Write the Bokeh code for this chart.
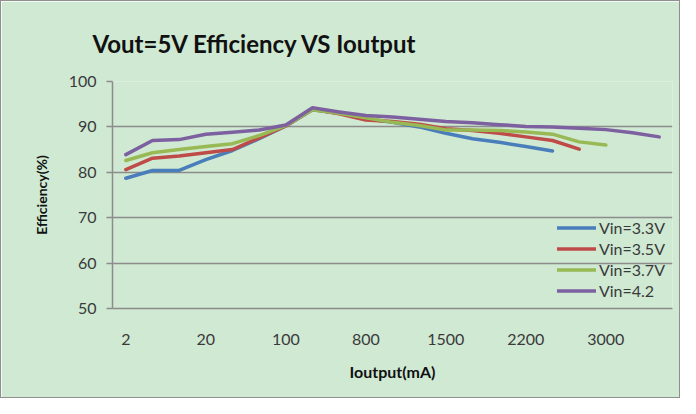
from bokeh.plotting import figure
from bokeh.models import FixedTicker, Legend, LegendItem, Title
from bokeh.embed import file_html
from bokeh.resources import INLINE

categories = ["2", "5", "10", "20", "30", "50", "100", "300", "500", "800", "1000",
              "1200", "1500", "1800", "2000", "2200", "2500", "2800", "3000", "3200", "3500"]
shown_every = 3

vin33 = [78.7, 80.4, 80.4, 82.8, 84.8, 87.4, 90.2, 93.8, 93.0, 91.8, 91.0, 90.0, 88.6, 87.4, 86.6, 85.7, 84.7]
vin35 = [80.6, 83.1, 83.6, 84.3, 85.0, 87.6, 90.2, 93.9, 92.9, 91.5, 91.2, 90.6, 89.6, 89.2, 88.6, 87.8, 87.0, 85.1]
vin37 = [82.6, 84.3, 85.0, 85.7, 86.3, 88.1, 90.3, 93.8, 93.0, 92.0, 91.0, 90.3, 89.3, 89.3, 89.2, 88.9, 88.4, 86.7, 86.0]
vin42 = [83.9, 87.0, 87.2, 88.4, 88.8, 89.3, 90.4, 94.2, 93.3, 92.5, 92.2, 91.7, 91.2, 90.9, 90.5, 90.1, 90.0, 89.7, 89.4, 88.7, 87.8]

series = [("Vin=3.3V", vin33, "#4a7ebb"),
          ("Vin=3.5V", vin35, "#be4b48"),
          ("Vin=3.7V", vin37, "#98b954"),
          ("Vin=4.2", vin42, "#7d60a0")]

BG = "#cfe9d3"
GRID = "#8c8c8c"
TXT = "#3a3a3a"
FONT = "Lato"

p = figure(width=680, height=398, output_backend="svg", toolbar_location=None,
           x_range=(-0.5, len(categories) - 0.5), y_range=(50, 100),
           min_border_left=111, min_border_right=9, min_border_top=80, min_border_bottom=91,
           background_fill_color=BG, border_fill_color=BG,
           styles={"border": "1.5px solid #8f8f8f"})
p.outline_line_color = None

t = Title(text="Vout=5V Efficiency VS Ioutput", align="left", offset=-20,
          text_font=FONT, text_font_size="24px", text_font_style="bold",
          text_color="#111111", standoff=48)
p.add_layout(t, "above")

items = []
for name, vals, col in series:
    r = p.line(list(range(len(vals))), vals, line_color=col, line_width=3.5,
               line_join="round", line_cap="round")
    items.append(LegendItem(label=name, renderers=[r]))

leg = Legend(items=items, location="bottom_right", background_fill_alpha=0,
             border_line_color=None, glyph_width=39, glyph_height=21, label_height=21,
             label_standoff=3, spacing=0, padding=2, margin=7,
             label_text_font=FONT, label_text_font_size="16px", label_text_color=TXT)
p.add_layout(leg, "center")

p.xaxis.ticker = FixedTicker(ticks=list(range(0, len(categories), shown_every)))
p.xaxis.major_label_overrides = {i: categories[i] for i in range(0, len(categories), shown_every)}
p.xaxis.major_tick_line_color = None
p.xaxis.minor_tick_line_color = None
p.xaxis.axis_line_color = GRID
p.xaxis.axis_line_width = 1.5
p.xaxis.major_label_standoff = 19
p.xaxis.axis_label = "Ioutput(mA)"
p.xaxis.axis_label_standoff = 14
p.xaxis.axis_label_text_font_size = "16px"

p.yaxis.ticker = FixedTicker(ticks=[50, 60, 70, 80, 90, 100])
p.yaxis.major_tick_out = 6
p.yaxis.major_tick_in = 0
p.yaxis.major_tick_line_color = GRID
p.yaxis.major_tick_line_width = 1.5
p.yaxis.minor_tick_line_color = None
p.yaxis.axis_line_color = GRID
p.yaxis.axis_line_width = 1.5
p.yaxis.major_label_standoff = 10
p.yaxis.axis_label = "Efficiency(%)"
p.yaxis.axis_label_standoff = 16
p.yaxis.axis_label_text_font_size = "14px"

for ax in (p.xaxis, p.yaxis):
    ax.major_label_text_font = FONT
    ax.major_label_text_font_size = "16px"
    ax.major_label_text_color = TXT
    ax.axis_label_text_font = FONT
    ax.axis_label_text_font_style = "bold"
    ax.axis_label_text_color = "#111111"

p.xgrid.grid_line_color = None
p.ygrid.grid_line_color = GRID
p.ygrid.grid_line_width = 1.5

open("out.html", "w").write(file_html(p, INLINE))
